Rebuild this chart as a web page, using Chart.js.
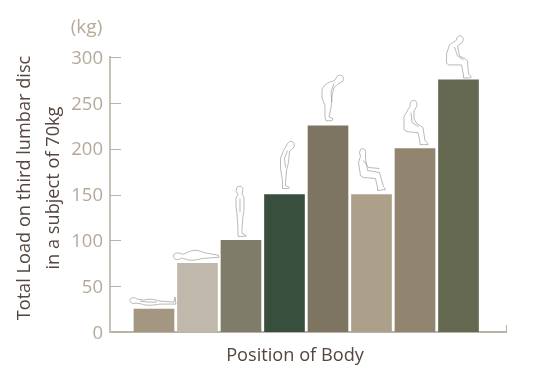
<!DOCTYPE html>
<html>
<head>
<meta charset="utf-8">
<style>
    html, body { margin: 0; padding: 0; background: #fff; }
    canvas { display: block; }
</style>
<script src="https://cdn.jsdelivr.net/npm/chart.js@4"></script>
</head>
<body>
<canvas id="grafico" width="534" height="382"></canvas>
<script>
const categories = ["Lying supine", "Lying on side", "Standing", "Standing, leaning", "Standing, bent", "Sitting", "Sitting, leaning", "Sitting, bent"];
const loads = [25, 75, 100, 150, 225, 150, 200, 275];
const barColors = ["#a39781", "#c0b8aa", "#7f7d69", "#384f3e", "#7d7461", "#aca08a", "#928570", "#646850"];
const yTicks = [0, 50, 100, 150, 200, 250, 300];
const yTitle = ["Total Load on third lumbar disc", "in a subject of 70kg"];
const xTitle = "Position of Body";
const unit = "(kg)";

// little body outlines, relative to the top centre of each bar
const figures = [
    ["M-24 -9 C-24 -12 -19 -12 -17 -10 L-10 -9 C-4 -11 2 -9 6 -8 L20 -7 L21 -12 L22 -5 L6 -5 C0 -4 -8 -3 -12 -5 L-18 -6 C-21 -5 -24 -6 -24 -9 Z", "M-14 -8 L-6 -7 L3 -7"],
    ["M-24 -7 C-24 -11 -19 -11 -15 -9 C-10 -10 -8 -13 -2 -13 C3 -13 6 -10 10 -10 L21 -8 L21.5 -6 L8 -5 C3 -5 0 -3 -6 -3 C-11 -3 -13 -5 -16 -5 C-19 -3 -24 -3 -24 -7 Z"],
    ["M-4 -53 C-2 -55 2 -54 2 -51 L1 -46 L3 -43 L3 -30 L2 -24 L1 -12 L1 -7 L5 -5 L5 -4 L-3 -4 L-3 -12 L-4 -26 L-5 -34 L-5 -42 L-3 -46 L-5 -49 Z", "M-1 -42 L-1 -28"],
    ["M5 -53 C9 -54 11 -50 9 -47 C8 -45 6 -45 5 -43 L4 -32 L2 -24 L1 -11 L1 -9 L5 -7 L4 -6 L-2 -6 L-2 -14 L-4 -26 L-4 -36 L-1 -44 C1 -46 2 -51 5 -53 Z", "M3 -44 L0 -36 L1 -27"],
    ["M10 -50 C14 -52 17 -48 15 -45 C14 -43 11 -43 9 -41 L6 -38 L4 -30 L3 -18 L1 -9 L5 -7 L4 -5 L-2 -5 L-3 -9 L-3 -20 L-6 -28 L-6 -36 C-4 -42 2 -44 6 -45 C8 -46 8 -49 10 -50 Z", "M6 -42 L3 -34 L4 -24"],
    ["M-11 -45 C-8 -47 -5 -45 -6 -41 L-6 -36 L-4 -24 L8 -22 L12 -8 L14 -5 L6 -4 L6 -7 L4 -16 L-8 -17 L-11 -19 L-13 -32 L-11 -38 L-12 -42 Z", "M-8 -34 L-3 -27 L8 -26"],
    ["M-2 -48 C2 -49 3 -44 1 -41 L-1 -38 L-1 -30 L1 -26 L8 -21 L10 -8 L13 -5 L13 -4 L5 -4 L5 -7 L3 -16 L-8 -17 L-11 -19 L-11 -32 L-7 -39 L-5 -42 C-5 -46 -4 -48 -2 -48 Z", "M-4 -36 L-3 -26 L4 -22"],
    ["M0 -44 C4 -45 6 -41 4 -38 C3 -36 1 -36 -1 -34 L1 -24 L7 -21 L9 -19 L10 -6 L13 -3 L12 -2 L5 -2 L5 -5 L3 -15 L-10 -15 L-12 -17 L-12 -26 L-9 -35 C-6 -38 -3 -38 -2 -40 C-2 -42 -1 -43 0 -44 Z", "M-4 -33 L-1 -24 L5 -20"]
];

const fonte = '"Open Sans"';

// ticks sit on the inside of the axes in this chart
const marcas = {
    id: "marcas",
    afterDatasetsDraw(chart) {
        const ctx = chart.ctx;
        const { x, y } = chart.scales;
        ctx.save();
        ctx.strokeStyle = "#b9b2a5";
        ctx.lineWidth = 1;
        ctx.beginPath();
        yTicks.forEach(v => {
            const py = Math.round(y.getPixelForValue(v)) + 0.5;
            ctx.moveTo(x.left, py);
            ctx.lineTo(x.left + 11, py);
        });
        const fim = Math.round(x.getPixelForValue(x.max)) + 0.5;
        ctx.moveTo(fim, y.bottom);
        ctx.lineTo(fim, y.bottom - 7);
        ctx.stroke();

        ctx.strokeStyle = "#8a8a86";
        ctx.lineWidth = 0.6;
        chart.getDatasetMeta(0).data.forEach((bar, i) => {
            ctx.save();
            ctx.translate(bar.x, bar.y);
            figures[i].forEach(d => ctx.stroke(new Path2D(d)));
            ctx.restore();
        });
        ctx.restore();
    }
};

const textos = {
    id: "textos",
    afterDraw(chart) {
        const ctx = chart.ctx;
        ctx.save();
        ctx.textAlign = "center";
        ctx.textBaseline = "middle";

        ctx.fillStyle = "#b5aa98";
        ctx.font = "19px " + fonte;
        ctx.fillText(unit, 86.5, 28);

        ctx.fillStyle = "#54453e";
        ctx.font = "18.2px " + fonte;
        ctx.fillText(xTitle, 295, 356);

        ctx.translate(39.5, 188);
        ctx.rotate(-Math.PI / 2);
        ctx.fillText(yTitle[0], 0, -14.5);
        ctx.fillText(yTitle[1], 0, 14.5);
        ctx.restore();
    }
};

new Chart(document.getElementById("grafico"), {
    type: "bar",
    data: {
        labels: categories,
        datasets: [{
            data: loads.map((v, i) => ({ x: i + 1, y: v })),
            backgroundColor: barColors,
            barThickness: 40
        }]
    },
    options: {
        responsive: false,
        animation: false,
        layout: { padding: { top: 57, right: 28 } },
        plugins: { legend: { display: false }, tooltip: { enabled: false } },
        scales: {
            x: {
                type: "linear",
                offset: false,
                min: -0.011,
                max: 9.092,
                border: { color: "#b9b2a5", width: 2 },
                grid: { display: false },
                ticks: { display: false },
                afterFit: s => { s.height = 50; }
            },
            y: {
                min: 0,
                max: 300,
                border: { color: "#c8c2b6", width: 2 },
                grid: { display: false, drawTicks: false },
                ticks: {
                    padding: 7,
                    color: "#b5aa98",
                    font: { family: fonte, size: 18.5 },
                    labelOffset: 1.5,
                    stepSize: 50
                },
                afterFit: s => { s.width = 110; }
            }
        }
    },
    plugins: [marcas, textos]
});
</script>
</body>
</html>
